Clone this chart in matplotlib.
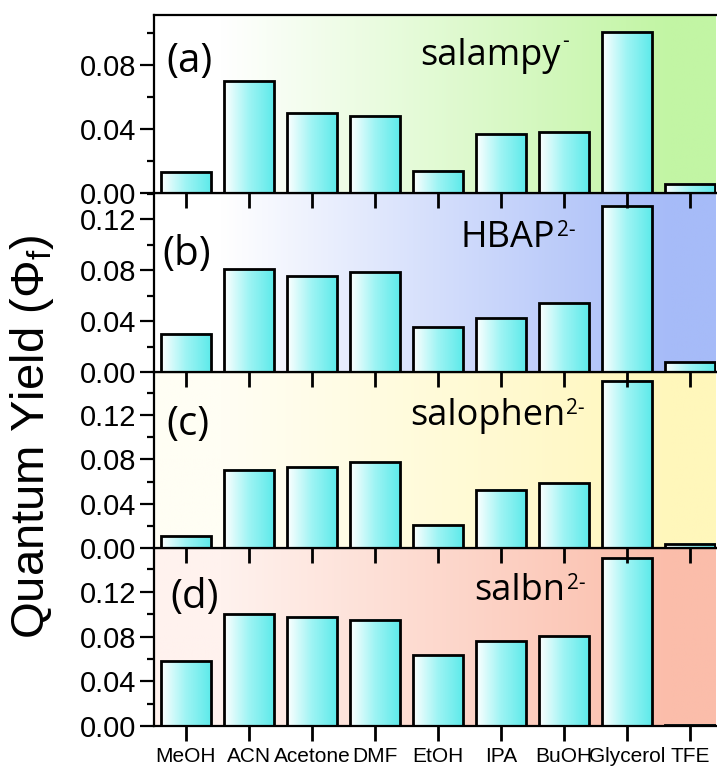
import numpy as np
import matplotlib
matplotlib.use('Agg')
import matplotlib.pyplot as plt
from matplotlib.colors import LinearSegmentedColormap

solvents = ['MeOH', 'ACN', 'Acetone', 'DMF', 'EtOH', 'IPA', 'BuOH', 'Glycerol', 'TFE']

qy_salampy = [0.0131, 0.0696, 0.0498, 0.0483, 0.0139, 0.0369, 0.0379, 0.1006, 0.0058]
qy_hbap = [0.0302, 0.0806, 0.0753, 0.0785, 0.0350, 0.0425, 0.0543, 0.1305, 0.0076]
qy_salophen = [0.0105, 0.0705, 0.0732, 0.0775, 0.0207, 0.0525, 0.0582, 0.1507, 0.0039]
qy_salbn = [0.0577, 0.1006, 0.0976, 0.0952, 0.0631, 0.0757, 0.0802, 0.1502, 0.0012]

panel_tags = ['(a)', '(b)', '(c)', '(d)']
names = ['salampy', 'HBAP', 'salophen', 'salbn']
charges = ['-', '2-', '2-', '2-']
ymax = [0.111, 0.1407, 0.1588, 0.1592]
bg_colors = ['#c2f5a4', '#a6bbf8', '#fff7bb', '#fbbdaa']
bg_left = ['#ffffff', '#ffffff', '#fffef4', '#fff2ee']

series = [qy_salampy, qy_hbap, qy_salophen, qy_salbn]

W, H = 717, 772
fig = plt.figure(figsize=(W / 100, H / 100), dpi=100)

# panel edges in pixels from top
edges = [15, 193, 372, 548, 726]
left_px, right_px = 154, 716

tick_font = ['Liberation Sans', 'DejaVu Sans']
label_font = ['Open Sans', 'DejaVu Sans']

bar_cmap = LinearSegmentedColormap.from_list('bar', ['#ffffff', '#9ef4f4', '#5eeaea'])
grad = np.linspace(0, 1, 256).reshape(1, -1)

tag_pos = [(0.022, 0.74), (0.015, 0.655), (0.022, 0.70), (0.030, 0.72)]
name_pos = [(0.474, 0.72), (0.546, 0.698), (0.455, 0.699), (0.570, 0.708)]
sup_dy = [5, 0, 0, 0]

axes = []
for i in range(4):
    top, bot = edges[i], edges[i + 1]
    ax = fig.add_axes([left_px / W, 1 - bot / H, (right_px - left_px) / W, (bot - top) / H])
    # upper panels on top so their outward x ticks show over the panel below
    ax.set_zorder(10 - i)
    axes.append(ax)
    x = np.arange(len(solvents))

    # background gradient
    bg = LinearSegmentedColormap.from_list(
        'bg%d' % i, [(0, bg_left[i]), (0.12, bg_left[i]), (0.92, bg_colors[i]), (1, bg_colors[i])])
    ax.imshow(grad, cmap=bg, aspect='auto', extent=[0, 1, 0, 1],
              transform=ax.transAxes, zorder=0)

    bars = ax.bar(x, series[i], width=0.79, facecolor='none', edgecolor='black',
                  linewidth=2.0, zorder=3)
    for b in bars:
        ax.imshow(grad, cmap=bar_cmap, aspect='auto', zorder=2,
                  extent=[b.get_x(), b.get_x() + b.get_width(), 0, b.get_height()])
    ax.set_xlim(-0.507, 8.41)
    ax.set_ylim(0, ymax[i])

    ax.set_xticks(x)
    if i == 3:
        ax.set_xticklabels(solvents, fontfamily=tick_font, fontsize=15)
    else:
        ax.set_xticklabels([])
    ax.set_yticks([0, 0.04, 0.08, 0.12] if ymax[i] > 0.12 else [0, 0.04, 0.08])
    ax.set_yticks(np.arange(0.02, ymax[i], 0.04), minor=True)
    ax.set_yticklabels(['%.2f' % v for v in ax.get_yticks()], fontfamily=tick_font, fontsize=21)
    ax.tick_params(axis='x', which='major', direction='out', length=11, width=2.0, pad=4,
                   bottom=True, color='black')
    ax.tick_params(axis='y', which='major', direction='out', length=10, width=1.6, pad=3)
    ax.tick_params(axis='y', which='minor', direction='out', length=5, width=1.6)
    for s in ['left', 'top', 'bottom']:
        ax.spines[s].set_linewidth(1.6)
        ax.spines[s].set_zorder(5)
    ax.spines['right'].set_visible(False)

    ax.text(tag_pos[i][0], tag_pos[i][1], panel_tags[i], transform=ax.transAxes,
            fontfamily=label_font, fontsize=29, ha='left', va='center', zorder=6)
    t = ax.text(name_pos[i][0], name_pos[i][1], names[i], transform=ax.transAxes,
                fontfamily=label_font, fontsize=26, ha='left', va='baseline', zorder=6)
    ax.annotate(charges[i], xy=(1, 1), xycoords=t, xytext=(1, sup_dy[i]),
                textcoords='offset points', fontfamily=label_font, fontsize=15,
                ha='left', va='top', zorder=6)

fig.text(0.045, 0.435, 'Quantum Yield (\u03a6$_\\mathregular{f}$)', rotation=90,
         fontfamily=['Liberation Sans', 'DejaVu Sans'], fontsize=34, ha='center', va='center')

fig.savefig('out.png', dpi=100)
